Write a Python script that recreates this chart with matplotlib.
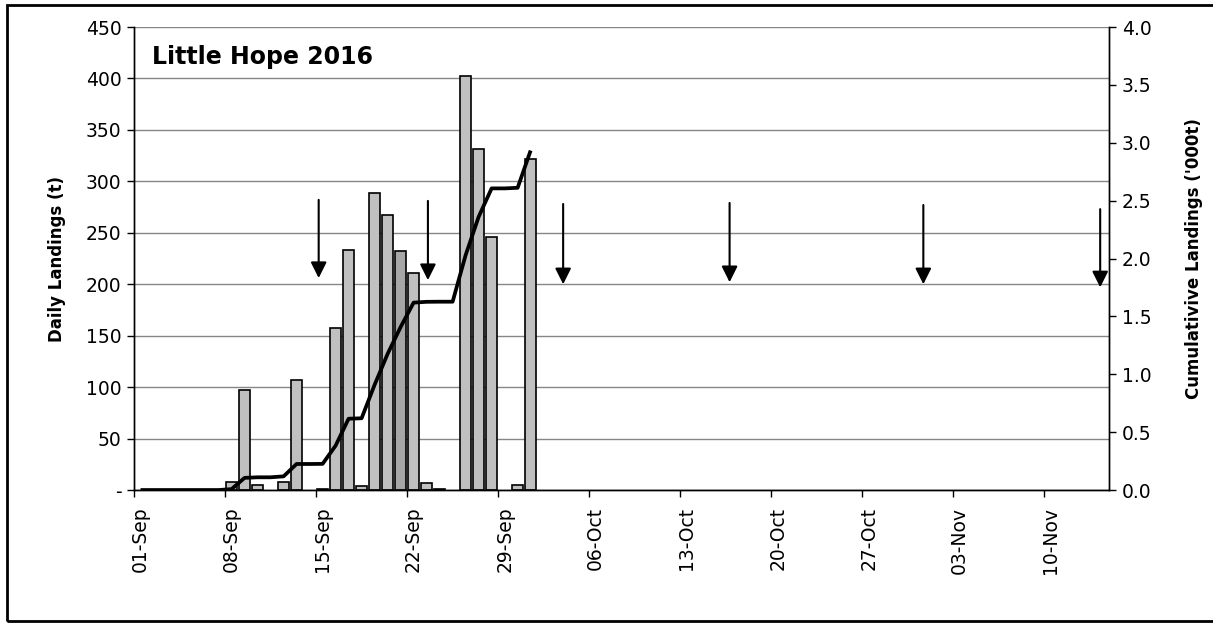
import numpy as np
import pandas as pd
import matplotlib
matplotlib.use("Agg")
import matplotlib.pyplot as plt
from matplotlib.patches import Rectangle
from matplotlib.ticker import FuncFormatter, MultipleLocator

# season window shown on the x axis
season_start = "2016-09-01"
season_end = "2016-11-14"

# daily landings (t) for the days with catch
landing_days = ["2016-09-08", "2016-09-09", "2016-09-10", "2016-09-12", "2016-09-13",
                "2016-09-15", "2016-09-16", "2016-09-17", "2016-09-18", "2016-09-19",
                "2016-09-20", "2016-09-21", "2016-09-22", "2016-09-23", "2016-09-24",
                "2016-09-26", "2016-09-27", "2016-09-28", "2016-09-30", "2016-10-01"]
landing_tonnes = [8, 97, 5, 8, 107,
                  1, 157, 233, 4, 289,
                  267, 232, 211, 7, 1,
                  402, 331, 246, 5, 322]
highlight_day = "2016-09-21"

# survey / notice dates marked with arrows (day offset, arrow top, arrow tip in t)
arrow_days = [14.2, 22.6, 33.0, 45.8, 60.7, 74.3]
arrow_top = [282, 281, 278, 279, 277, 273]
arrow_tip = [206, 204, 200, 202, 200, 197]

season = pd.date_range(season_start, season_end, freq="D")
daily = pd.Series(0.0, index=season)
daily[pd.to_datetime(landing_days)] = landing_tonnes
last_day = pd.to_datetime(landing_days[-1])
cumulative = daily[:last_day].cumsum() / 1000.0

day_idx = np.arange(len(season))
cum_idx = np.arange(len(cumulative))

plt.rcParams['font.family'] = ['DejaVu Sans']

fig = plt.figure(figsize=(12.13, 6.24), dpi=100)
ax = fig.add_axes([0.1105, 0.2147, 0.804, 0.742])
ax2 = ax.twinx()

bar_vals = daily.values
has_catch = bar_vals > 0
bar_colors = np.array(['#a6a6a6' if d == pd.Timestamp(highlight_day) else '#c0c0c0'
                       for d in season])
ax.bar(day_idx[has_catch] + 0.5, bar_vals[has_catch], width=0.86,
       color=bar_colors[has_catch], edgecolor='black', linewidth=1.2, zorder=2)

ax2.plot(cum_idx + 0.5, cumulative.values, color='black', lw=2.7,
         solid_joinstyle='round', solid_capstyle='butt', zorder=3)

for x, top, tip in zip(arrow_days, arrow_top, arrow_tip):
    ax.annotate('', xy=(x, tip), xytext=(x, top),
                arrowprops=dict(arrowstyle='-|>', color='black', lw=1.5,
                                mutation_scale=24, shrinkA=0, shrinkB=0),
                zorder=4)

ax.set_xlim(0, len(season))
ax.set_ylim(0, 450)
ax2.set_ylim(0, 4.0)

ax.yaxis.set_major_locator(MultipleLocator(50))
ax.yaxis.set_major_formatter(FuncFormatter(lambda v, p: '-' if v == 0 else f'{v:.0f}'))
ax2.yaxis.set_major_locator(MultipleLocator(0.5))
ax2.yaxis.set_major_formatter(FuncFormatter(lambda v, p: f'{v:.1f}'))

# tick marks sit between days, the date labels sit in the middle of each day
tick_pos = day_idx[::7]
ax.set_xticks(tick_pos)
ax.set_xticklabels([])
ax.set_xticks(tick_pos + 0.5, minor=True)
ax.set_xticklabels([season[i].strftime('%d-%b') for i in tick_pos], minor=True, rotation=90)
ax.tick_params(axis='x', which='minor', length=0, pad=12, labelsize=13.5)

ax.grid(axis='y', color='#868686', lw=1.0, zorder=0)
ax.set_axisbelow(True)
for a in (ax, ax2):
    a.spines['top'].set_visible(False)
    for s in ('left', 'right', 'bottom'):
        a.spines[s].set_color('black')
        a.spines[s].set_linewidth(1.0)
    a.tick_params(which='major', direction='out', length=5, width=1, labelsize=13.5,
                  colors='black', pad=4)

ax.set_ylabel('Daily Landings (t)', fontsize=12, fontweight='bold', labelpad=14)
ax2.set_ylabel("Cumulativive Landings ('000t)", fontsize=12, fontweight='bold', labelpad=24)

ax.text(0.018, 0.935, 'Little Hope 2016', transform=ax.transAxes, fontsize=17,
        fontweight='bold', va='center', ha='left')

fig.add_artist(Rectangle((0.006, 0.005), 1.1, 0.987, transform=fig.transFigure,
                         fill=False, edgecolor='black', lw=2))

fig.savefig('out.png', dpi=100)
